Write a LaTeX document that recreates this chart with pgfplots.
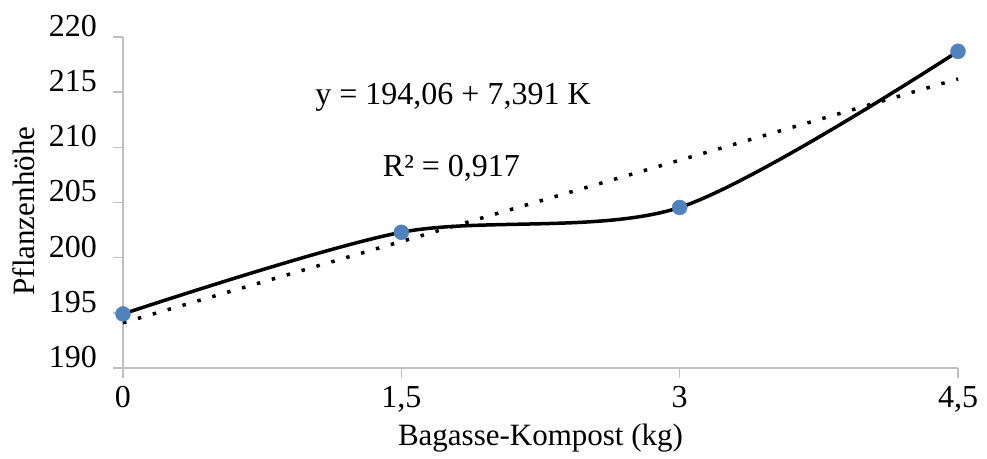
\documentclass[border=0pt]{standalone}
\usepackage{fontspec}
\setmainfont{Liberation Serif}
\usepackage{pgfplots}
\pgfplotsset{compat=1.18}
\definecolor{ptblue}{HTML}{4F81BD}
\definecolor{axgray}{HTML}{BFBFBF}
\begin{document}
\fontsize{31}{37}\selectfont
\begin{tikzpicture}[x=1pt,y=1pt]
\path[use as bounding box] (-123,-90) rectangle (864,368);
\begin{axis}[
  at={(0,0)}, anchor=south west,
  scale only axis, width=835pt, height=331pt,
  xmin=0, xmax=4.5, ymin=190, ymax=220,
  axis x line*=bottom, axis y line*=left,
  axis line style={draw=axgray, line width=1.6pt},
  tick style={draw=axgray, line width=1.6pt},
  tick align=outside, major tick length=10pt,
  xtick={0,1.5,3,4.5}, xticklabels={0,{1,5},3,{4,5}},
  ytick={190,195,200,205,210,215,220},
  yticklabels={190,195,200,205,210,215,220},
  xticklabel style={anchor=north, inner sep=0pt, yshift=-8pt, font=\fontsize{32}{38}\selectfont},
  yticklabel style={anchor=east, inner sep=0pt, xshift=-16pt, yshift=11pt, font=\fontsize{32}{38}\selectfont},
  xlabel={Bagasse-Kompost (kg)},
  ylabel={Pflanzenhöhe},
  every axis x label/.style={at={(axis description cs:0.5,0)}, anchor=center, yshift=-70pt},
  every axis y label/.style={at={(axis description cs:-0.1186,0.474)}, anchor=center, rotate=90},
  clip=false,
]
\addplot[black, line width=3.5pt, dash pattern=on 3.5pt off 12pt] coordinates {(0,194.1) (4.5,216.2)};
\addplot[black, line width=3.5pt, smooth, tension=0.5] coordinates {(0,194.9) (1.5,202.3) (3,204.55) (4.5,218.7)};
\addplot[only marks, mark=*, mark size=7.5pt, mark options={fill=ptblue, draw=ptblue}] coordinates {(0,194.9) (1.5,202.3) (3,204.55) (4.5,218.7)};
\node[anchor=west, inner sep=0pt, font=\fontsize{32}{38}\selectfont] at (axis cs:1.036,214.5) {y = 194,06 + 7,391 K};
\node[anchor=west, inner sep=0pt, font=\fontsize{32}{38}\selectfont] at (axis cs:1.40,208.1) {R² = 0,917};
\end{axis}
\end{tikzpicture}
\end{document}
